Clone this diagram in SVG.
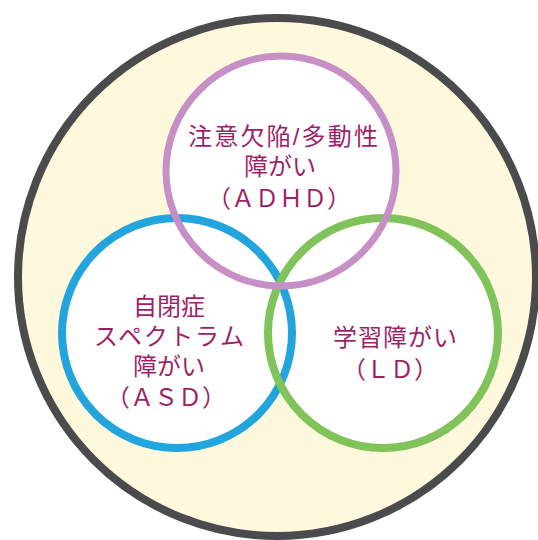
<svg xmlns="http://www.w3.org/2000/svg" width="538" height="540" viewBox="0 0 538 540">
  <style>
    .lbl { font-family: "Liberation Sans", "Noto Sans CJK JP", sans-serif; font-size: 24px; fill: #9e1f68; text-anchor: middle; font-weight: 400; }
    .ring { fill: none; }
  </style>
  <rect width="538" height="540" fill="#ffffff"/>
  <g id="outer">
    <circle cx="277" cy="277" r="259" fill="#fef9dd" stroke="#4b4b4d" stroke-width="8"/>
  </g>
  <g id="fills">
    <circle cx="281" cy="171" r="115" fill="#ffffff"/>
    <circle cx="177" cy="333" r="115" fill="#ffffff"/>
    <circle cx="383" cy="333" r="115" fill="#ffffff"/>
  </g>
  <g id="asd">
    <circle class="ring" cx="177" cy="333" r="115" stroke="#22a5dc" stroke-width="8"/>
    <text class="lbl" x="169" y="315">自閉症</text>
    <text class="lbl" x="169" y="345" textLength="150" lengthAdjust="spacing">スペクトラム</text>
    <text class="lbl" x="169" y="375">障がい</text>
    <text class="lbl" x="166" y="406">（ＡＳＤ）</text>
  </g>
  <g id="ld">
    <circle class="ring" cx="383" cy="333" r="115" stroke="#80c35b" stroke-width="8"/>
    <text class="lbl" x="395" y="346" textLength="124" lengthAdjust="spacing">学習障がい</text>
    <text class="lbl" x="390" y="378">（ＬＤ）</text>
  </g>
  <g id="adhd">
    <circle class="ring" cx="281" cy="171" r="115" stroke="#c690c6" stroke-width="7"/>
    <text class="lbl" x="283" y="145" textLength="190" lengthAdjust="spacing">注意欠陥/多動性</text>
    <text class="lbl" x="280" y="175">障がい</text>
    <text class="lbl" x="279" y="207">（ＡＤＨＤ）</text>
  </g>
  <g id="connectors"></g>
</svg>
